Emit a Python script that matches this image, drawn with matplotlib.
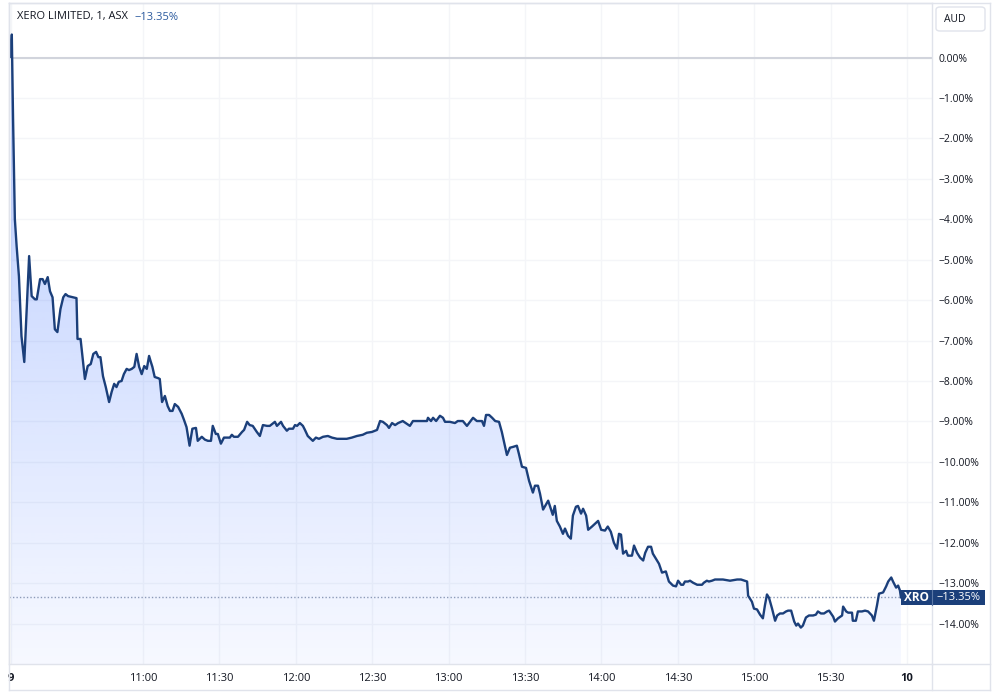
import numpy as np
import matplotlib
matplotlib.use("Agg")
import matplotlib.pyplot as plt
import matplotlib.transforms as mtransforms
from matplotlib.patches import Rectangle, FancyBboxPatch
from matplotlib.lines import Line2D

plt.rcParams['font.family'] = ['Open Sans', 'DejaVu Sans']

# minutes after 10:00 (1-minute bars, ASX session) and % change vs. open
minutes = [
    8.0, 8.5, 9.0, 9.7, 10.4, 11.3, 12.3, 13.4, 15.3, 16.3, 17.6, 18.3, 19.6, 20.6,
    21.5, 22.6, 23.5, 24.5, 25.4, 26.4, 27.6, 28.7, 29.6, 30.6, 32.6, 33.9, 34.3,
    35.5, 37.2, 38.3, 39.5, 40.5, 41.6, 42.5, 43.3, 44.3, 45.4, 46.7, 47.7, 48.7,
    49.6, 50.5, 51.6, 52.5, 53.6, 54.5, 55.6, 56.6, 57.5, 58.5, 59.5, 60.5, 61.5,
    62.4, 63.0, 63.7, 64.6, 66.0, 66.6, 67.5, 68.6, 69.7, 70.6, 71.6, 72.5, 73.8,
    75.2, 76.1, 77.1, 78.3, 79.4, 80.8, 81.5, 83.1, 84.3, 85.5, 86.7, 87.4, 88.6,
    89.4, 90.6, 91.8, 93.0, 94.1, 94.9, 95.7, 97.3, 98.9, 99.7, 100.9, 101.9, 103.1,
    104.7, 105.9, 107.1, 108.7, 109.8, 111.8, 112.6, 114.2, 115.0, 116.5, 117.3,
    118.9, 119.7, 120.5, 121.6, 122.8, 123.6, 124.7, 126.7, 127.9, 129.1, 130.7,
    132.6, 134.2, 136.2, 140.0, 142.0, 144.0, 146.3, 147.9, 149.9, 151.9, 153.1,
    154.2, 155.8, 156.6, 157.8, 159.0, 160.2, 162.0, 163.6, 164.8, 166.0, 167.9,
    169.9, 171.5, 171.9, 173.1, 173.9, 175.1, 176.6, 177.8, 178.6, 180.5, 182.5,
    183.6, 185.6, 187.2, 188.4, 189.6, 191.1, 193.1, 193.9, 194.7, 195.9, 197.1,
    198.3, 199.8, 200.9, 202.1, 202.9, 204.1, 205.3, 206.8, 207.6, 208.8, 210.4,
    211.6, 213.1, 213.9, 215.1, 215.9, 217.1, 217.9, 219.1, 220.9, 221.7, 222.5,
    223.7, 224.9, 225.7, 226.9, 228.0, 228.8, 230.0, 230.8, 232.0, 232.8, 234.0,
    234.8, 236.3, 237.5, 238.7, 239.9, 241.4, 242.5, 243.7, 244.9, 246.1, 246.9,
    247.7, 248.5, 249.7, 250.4, 252.0, 252.8, 254.0, 255.2, 256.4, 257.2, 258.3,
    259.5, 260.2, 261.8, 262.6, 263.8, 265.3, 266.5, 268.1, 269.3, 270.1, 271.3,
    272.1, 272.8, 274.0, 274.8, 276.0, 277.6, 279.5, 280.2, 281.4, 282.2, 283.4,
    284.6, 287.7, 290.5, 293.3, 294.8, 297.2, 297.6, 299.1, 299.9, 301.1, 302.3,
    303.4, 304.2, 305.0, 305.8, 307.0, 308.2, 309.0, 310.1, 311.3, 312.5, 313.3,
    314.5, 315.7, 316.5, 317.2, 318.3, 319.1, 320.3, 321.5, 323.1, 324.2, 325.0,
    326.2, 327.4, 328.6, 329.4, 331.0, 331.7, 332.9, 334.5, 334.9, 336.1, 336.9,
    338.4, 338.7, 339.9, 340.7, 342.3, 343.5, 344.7, 346.2, 347.0, 348.2, 349.0,
    350.6, 351.8, 352.6, 353.8, 354.5, 355.7, 356.5, 357.2, 357.6,
]
change_pct = [
    0.02, 0.57, -1.53, -4.00, -4.67, -5.41, -6.89, -7.53, -4.91, -5.90, -5.98, -5.98,
    -5.48, -5.48, -5.60, -5.43, -5.78, -5.93, -6.72, -6.79, -6.22, -5.93, -5.85,
    -5.90, -5.93, -5.95, -6.96, -6.96, -7.95, -7.63, -7.58, -7.33, -7.28, -7.41,
    -7.41, -7.88, -8.15, -8.52, -8.27, -8.07, -8.15, -8.02, -8.00, -7.83, -7.70,
    -7.73, -7.70, -7.65, -7.33, -7.65, -7.83, -7.63, -7.70, -7.38, -7.51, -7.65,
    -7.90, -7.93, -7.95, -8.52, -8.37, -8.62, -8.74, -8.74, -8.57, -8.64, -8.81,
    -8.96, -9.14, -9.60, -9.18, -9.16, -9.48, -9.38, -9.45, -9.48, -9.48, -9.11,
    -9.31, -9.31, -9.55, -9.40, -9.40, -9.40, -9.33, -9.38, -9.38, -9.26, -9.21,
    -9.01, -9.09, -9.11, -9.26, -9.36, -9.09, -9.11, -9.11, -9.01, -9.11, -9.01,
    -9.11, -9.23, -9.18, -9.18, -9.09, -9.11, -9.04, -9.11, -9.21, -9.36, -9.48,
    -9.40, -9.43, -9.38, -9.36, -9.40, -9.43, -9.43, -9.40, -9.36, -9.33, -9.28,
    -9.26, -9.21, -8.99, -9.01, -9.09, -9.16, -9.04, -9.09, -9.04, -8.99, -9.06,
    -9.11, -8.99, -8.99, -8.99, -8.99, -8.91, -8.99, -8.91, -8.99, -8.86, -8.91,
    -9.01, -9.01, -9.04, -8.99, -8.99, -9.11, -9.01, -8.91, -8.99, -8.99, -9.11,
    -8.84, -8.84, -8.91, -8.99, -9.01, -9.26, -9.60, -9.83, -9.65, -9.63, -9.60,
    -9.80, -10.12, -10.15, -10.47, -10.76, -10.59, -10.59, -10.79, -11.18, -11.09,
    -10.96, -11.31, -11.09, -11.46, -11.60, -11.78, -11.65, -11.83, -11.90, -11.33,
    -11.11, -11.09, -11.28, -11.16, -11.33, -11.68, -11.60, -11.53, -11.46, -11.68,
    -11.70, -11.60, -11.73, -12.00, -12.15, -11.78, -11.80, -12.27, -12.20, -12.32,
    -12.32, -12.07, -12.25, -12.37, -12.44, -12.25, -12.10, -12.10, -12.27, -12.44,
    -12.52, -12.74, -12.71, -12.96, -13.06, -13.08, -12.94, -13.04, -13.04, -12.96,
    -12.96, -12.94, -12.99, -13.04, -13.04, -12.99, -12.94, -12.96, -12.94, -12.91,
    -12.91, -12.94, -12.91, -12.91, -12.96, -13.31, -13.46, -13.63, -13.65, -13.78,
    -13.87, -13.55, -13.28, -13.36, -13.63, -13.93, -13.80, -13.75, -13.75, -13.70,
    -13.68, -13.68, -13.95, -14.05, -14.00, -14.10, -14.05, -13.85, -13.80, -13.80,
    -13.78, -13.70, -13.75, -13.75, -13.70, -13.68, -13.83, -13.95, -13.87, -13.80,
    -13.58, -13.70, -13.73, -13.73, -13.93, -13.93, -13.70, -13.70, -13.68, -13.70,
    -13.80, -13.93, -13.55, -13.26, -13.23, -13.08, -12.96, -12.86, -12.96, -13.11,
    -13.06, -13.18, -13.35,
]
last_change = -13.35

tick_minutes = [8, 60, 90, 120, 150, 180, 210, 240, 270, 300, 330, 360]
tick_labels = ['9', '11:00', '11:30', '12:00', '12:30', '13:00', '13:30',
               '14:00', '14:30', '15:00', '15:30', '10']
pct_ticks = list(range(0, -15, -1))

line_color = '#1b3f7a'
frame_color = '#e0e3eb'
text_color = '#131722'
W, H = 1000, 695

fig = plt.figure(figsize=(10, 6.95), dpi=100)
ax = fig.add_axes([9 / W, (H - 664) / H, (932 - 9) / W, (664 - 3) / H])

ymin, ymax = -15.0, 1.35
xmin, xmax = 7.4, 369.8

# gradient area under the line
n = 256
rgba = np.zeros((n, 1, 4))
rgba[..., 0] = 41 / 255
rgba[..., 1] = 98 / 255
rgba[..., 2] = 1.0
rgba[..., 3] = np.linspace(0.34, 0.04, n).reshape(-1, 1)
im = ax.imshow(rgba, extent=[minutes[0], minutes[-1], ymin, max(change_pct)],
               aspect='auto', origin='upper', zorder=1, interpolation='bilinear')
area = ax.fill_between(minutes, change_pct, ymin, facecolor='none', edgecolor='none')
im.set_clip_path(area.get_paths()[0], transform=ax.transData)

ax.axhline(0, color='#d1d4dc', lw=1.5, zorder=2)
ax.axhline(last_change, color='#8d9bb8', lw=1, ls=(0, (1, 1.5)), zorder=2)
ax.plot(minutes, change_pct, color=line_color, lw=1.7, zorder=3,
        solid_joinstyle='round')

ax.set_xlim(xmin, xmax)
ax.set_ylim(ymin, ymax)

ax.set_xticks(tick_minutes)
ax.set_xticklabels(tick_labels)
for lbl in ax.get_xticklabels():
    if ':' not in lbl.get_text():
        lbl.set_fontweight('bold')
ax.set_yticks(pct_ticks)
ax.set_yticklabels([('\u2212' if v < 0 else '') + f'{abs(v):.2f}%' for v in pct_ticks])
ax.yaxis.tick_right()
ax.tick_params(axis='x', length=0, pad=6.5, labelsize=8, labelcolor=text_color)
ax.tick_params(axis='y', length=0, pad=4.5, labelsize=7.5, labelcolor=text_color)
ax.grid(color='#f4f5f8', lw=1, zorder=0)
ax.set_axisbelow(True)
for s in ax.spines.values():
    s.set_color(frame_color)
    s.set_linewidth(1)

# outer frame of the widget
fig_lines = [
    ([9 / W, 990 / W], [(H - 690) / H, (H - 690) / H]),
    ([990 / W, 990 / W], [(H - 690) / H, (H - 3) / H]),
    ([9 / W, 990 / W], [(H - 3) / H, (H - 3) / H]),
    ([9 / W, 9 / W], [(H - 690) / H, (H - 3) / H]),
    ([932 / W, 990 / W], [(H - 664) / H, (H - 664) / H]),
    ([932 / W, 932 / W], [(H - 690) / H, (H - 664) / H]),
]
for xs, ys in fig_lines:
    fig.add_artist(Line2D(xs, ys, transform=fig.transFigure, color=frame_color, lw=1))

# legend text
fig.text(17 / W, 1 - 17 / H, 'XERO LIMITED, 1, ASX', fontsize=8, color=text_color,
         va='center', ha='left')
fig.text(134 / W, 1 - 17 / H, '\u221213.35%', fontsize=8, color='#2b5a9e',
         va='center', ha='left')

# currency button
fig.add_artist(FancyBboxPatch((936 / W, (H - 31) / H), 49 / W, 24 / H,
                              boxstyle='round,pad=0,rounding_size=0.004',
                              transform=fig.transFigure, fc='white', ec=frame_color, lw=1))
fig.text(955 / W, 1 - 19 / H, 'AUD', fontsize=7.5, color=text_color, va='center', ha='center')

# last value label
blend = mtransforms.blended_transform_factory(fig.transFigure, ax.transData)
box_h = 15 / 40.45
fig.add_artist(Rectangle((901 / W, last_change - box_h / 2), 84 / W, box_h,
                         transform=blend, fc=line_color, ec='none', zorder=5))
fig.add_artist(Line2D([932 / W, 932 / W], [last_change - box_h / 2, last_change + box_h / 2],
                      transform=blend, color='#5c78a6', lw=0.8, zorder=5.5))
fig.text(916.5 / W, last_change, 'XRO', transform=blend, fontsize=8.5,
         fontweight='bold', color='white', va='center', ha='center', zorder=6)
fig.text(936 / W, last_change, '\u221213.35%', transform=blend, fontsize=8,
         color='white', va='center', ha='left', zorder=6)

fig.savefig('out.png', dpi=100, facecolor='white')
